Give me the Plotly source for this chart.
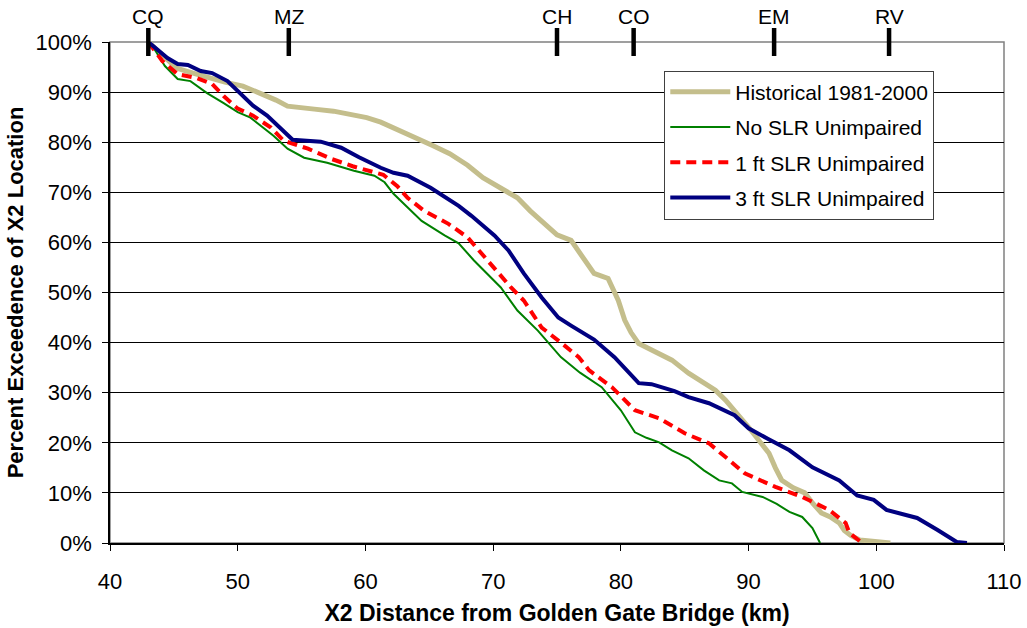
import plotly.graph_objects as go

# X2 exceedance curves (km from Golden Gate, % exceedance)
hist_km = [43.0, 44.0, 45.2, 46.5, 47.8, 49.0, 50.4, 52.0, 53.0, 53.9, 54.9, 56.0, 57.5, 59.0,
           60.1, 61.2, 62.2, 63.2, 64.0, 65.3, 66.6, 68.0, 69.2, 70.5, 71.9, 72.9, 74.3, 75.0,
           76.1, 77.0, 77.9, 79.0, 79.8, 80.3, 80.8, 81.4, 82.5, 84.0, 85.3, 86.5, 87.4, 88.2,
           88.9, 90.0, 90.8, 91.6, 92.1, 92.6, 93.5, 94.4, 95.0, 95.7, 96.4, 97.1, 97.5, 98.0,
           98.7, 100.0, 101.1]
hist_pct = [100, 97.5, 94.8, 93.8, 92.8, 92.0, 91.2, 89.6, 88.4, 87.2, 86.8, 86.6, 86.2, 85.5,
            84.9, 84.0, 82.9, 81.8, 80.7, 79.3, 77.7, 75.4, 72.9, 70.9, 68.9, 66.3, 62.9, 61.5,
            60.4, 57.0, 53.8, 52.8, 48.4, 44.5, 42.0, 39.8, 38.5, 36.5, 33.9, 32.0, 30.5, 28.5,
            26.5, 23.1, 20.5, 17.9, 15.0, 12.5, 11.0, 10.0, 8.0, 6.0, 5.2, 4.0, 2.5, 1.5,
            0.6, 0.2, 0]

noslr_km = [43.0, 43.5, 44.3, 45.3, 46.3, 47.6, 48.9, 50.0, 51.0, 52.0, 52.8, 53.9, 55.2, 57.0,
            59.1, 60.7, 61.5, 62.2, 63.3, 64.4, 66.2, 67.3, 68.5, 69.5, 70.6, 71.9, 73.5, 75.3,
            76.8, 78.5, 80.0, 81.1, 82.0, 83.0, 84.0, 85.3, 86.5, 87.7, 88.7, 89.5, 91.1, 92.2,
            93.2, 94.2, 95.0, 95.6]
noslr_pct = [100, 98.5, 95.2, 92.6, 92.2, 89.8, 87.8, 86.0, 84.9, 83.0, 81.3, 78.7, 76.9, 75.9,
             74.3, 73.3, 72.0, 69.7, 66.9, 64.3, 61.4, 59.8, 56.4, 53.8, 51.0, 46.4, 42.4, 37.1,
             34.0, 31.1, 26.5, 22.1, 21.0, 20.1, 18.5, 16.9, 14.5, 12.5, 11.9, 10.2, 9.2, 7.8,
             6.2, 5.2, 3.0, 0]

slr1_km = [43.0, 44.1, 45.3, 46.8, 48.0, 48.9, 50.0, 51.2, 52.6, 53.6, 55.5, 57.4, 59.0, 60.2,
           61.4, 62.5, 63.3, 64.6, 66.5, 68.0, 69.1, 70.4, 71.4, 72.4, 73.8, 75.4, 76.7, 77.5,
           79.3, 81.1, 83.0, 85.0, 86.9, 88.5, 89.7, 92.1, 94.2, 96.3, 97.6, 97.9, 98.9]
slr1_pct = [100, 96.2, 93.6, 92.8, 91.6, 89.2, 86.7, 85.3, 82.9, 80.3, 78.7, 76.6, 75.2, 74.3,
            73.5, 71.2, 68.9, 66.3, 63.7, 61.0, 57.8, 53.8, 51.0, 48.4, 43.0, 39.8, 37.1, 34.5,
            31.1, 26.5, 24.9, 21.9, 19.9, 16.5, 13.9, 11.2, 9.2, 6.6, 4.0, 2.0, 0]

slr3_km = [43.0, 44.5, 45.3, 46.1, 47.1, 48.0, 49.2, 50.2, 51.2, 52.3, 53.4, 54.3, 56.5, 58.1,
           59.5, 61.2, 62.2, 63.3, 65.1, 67.3, 68.3, 70.1, 71.2, 72.4, 73.8, 75.1, 76.1, 77.9,
           79.5, 81.4, 82.4, 84.2, 85.3, 86.9, 88.9, 90.0, 91.5, 93.2, 95.0, 97.1, 98.5, 99.8,
           100.8, 103.2, 104.8, 106.3, 107.1]
slr3_pct = [100, 96.8, 95.6, 95.4, 94.2, 93.8, 92.2, 89.8, 87.3, 85.3, 82.7, 80.5, 80.1, 78.9,
            77.0, 74.9, 73.9, 73.3, 70.9, 67.3, 65.3, 61.4, 58.4, 53.8, 49.0, 45.0, 43.4, 40.6,
            37.1, 31.9, 31.7, 30.3, 29.1, 27.9, 25.5, 22.9, 20.8, 18.5, 15.1, 12.5, 9.5, 8.6,
            6.6, 5.0, 2.6, 0.2, 0]

station_names = ["CQ", "MZ", "CH", "CO", "EM", "RV"]
station_km = [43, 54, 75, 81, 92, 101]

FONT = "Liberation Sans, Arial, sans-serif"

fig = go.Figure()
fig.add_trace(go.Scatter(x=hist_km, y=hist_pct, mode="lines", name="Historical 1981-2000",
                         legendgroup="a", line=dict(color="#C4BE8C", width=5)))
fig.add_trace(go.Scatter(x=noslr_km, y=noslr_pct, mode="lines", name="No SLR Unimpaired",
                         legendgroup="b", line=dict(color="#008000", width=2)))
fig.add_trace(go.Scatter(x=slr1_km, y=slr1_pct, mode="lines", name="1 ft SLR Unimpaired",
                         legendgroup="c", line=dict(color="#FF0000", width=4, dash="10px,6px")))
fig.add_trace(go.Scatter(x=slr3_km, y=slr3_pct, mode="lines", name="3 ft SLR Unimpaired",
                         legendgroup="d", line=dict(color="#000080", width=4)))

# station ticks along the top edge
fig.add_trace(go.Scatter(x=station_km, y=[100] * len(station_km), mode="markers",
                         showlegend=False, cliponaxis=False, hoverinfo="skip",
                         marker=dict(symbol="line-ns-open", size=20, color="black",
                                     line=dict(color="black", width=4.5))))
for name, km in zip(station_names, station_km):
    fig.add_annotation(x=km, y=1, xref="x", yref="paper", text=name, showarrow=False,
                       yanchor="bottom", yshift=12, font=dict(size=21, color="black", family=FONT))

# grey frame on top/right, black axes on left/bottom
fig.add_shape(type="rect", xref="paper", yref="paper", x0=0, y0=0, x1=1, y1=1,
              line=dict(color="#808080", width=1.5), layer="below")

fig.update_layout(
    width=1027, height=628,
    margin=dict(l=110, r=23, t=42, b=85),
    plot_bgcolor="white", paper_bgcolor="white",
    font=dict(family=FONT, size=21, color="black"),
    legend=dict(x=0.62, y=0.943, xanchor="left", yanchor="top",
                bgcolor="white", bordercolor="#404040", borderwidth=1,
                font=dict(size=21), itemwidth=60, tracegroupgap=5,
                traceorder="grouped"),
    xaxis=dict(range=[40, 110], dtick=10, showgrid=False, zeroline=False,
               showline=True, linecolor="black", linewidth=1.5,
               ticks="outside", ticklen=6, tickcolor="black", ticklabelstandoff=12,
               tickfont=dict(size=22), automargin=False,
               title=dict(text="<b>X2 Distance from Golden Gate Bridge (km)</b>",
                          font=dict(size=23), standoff=12)),
    yaxis=dict(range=[0, 100], dtick=10, ticksuffix="%", showgrid=True,
               gridcolor="black", gridwidth=1, zeroline=False,
               showline=True, linecolor="black", linewidth=1.5,
               ticks="outside", ticklen=6, tickcolor="black", ticklabelstandoff=6,
               tickfont=dict(size=22), automargin=False,
               title=dict(text="<b>Percent Exceedence of X2 Location</b>",
                          font=dict(size=22), standoff=6)),
)

fig.write_html("out.html", config={"displayModeBar": False},
               post_script="document.body.style.margin='0';")
